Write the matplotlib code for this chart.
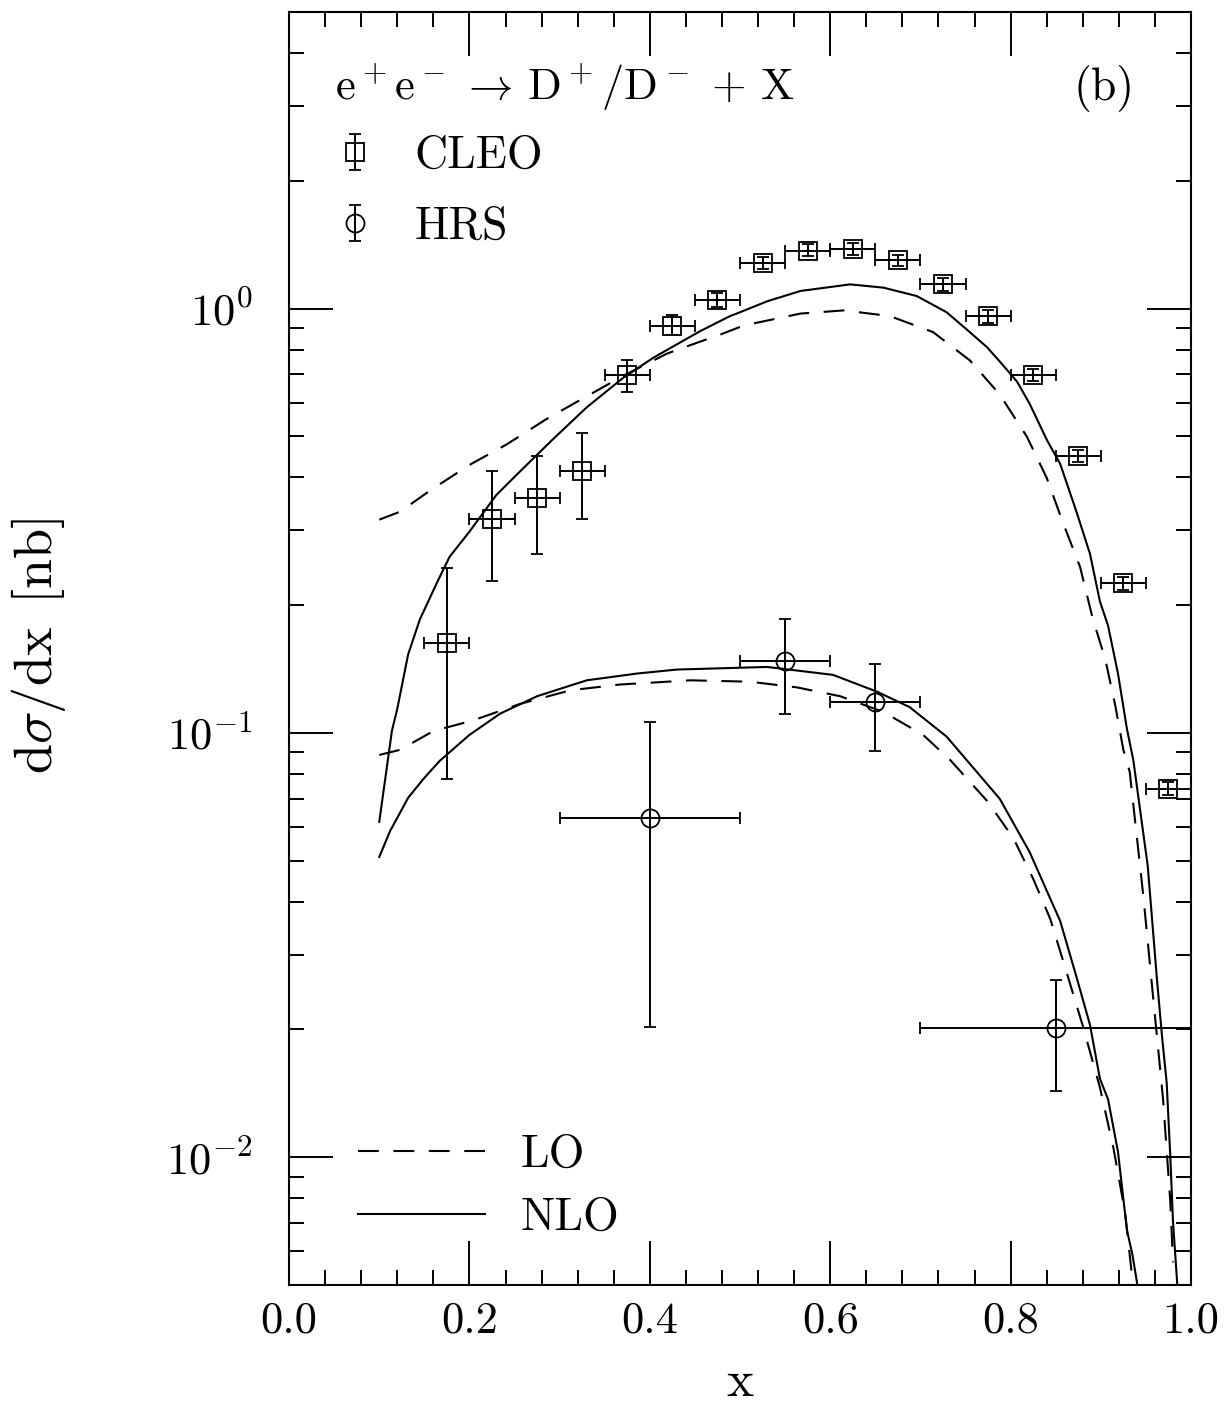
import numpy as np
import matplotlib
matplotlib.use("Agg")
import matplotlib.pyplot as plt
from matplotlib.ticker import MultipleLocator, LogLocator, NullFormatter
from matplotlib.legend_handler import HandlerErrorbar

plt.rcParams['font.family'] = 'serif'
plt.rcParams['font.serif'] = ['cmr10', 'DejaVu Serif']
plt.rcParams['mathtext.fontset'] = 'cm'
plt.rcParams['axes.formatter.use_mathtext'] = True
plt.rcParams['axes.unicode_minus'] = False

# CLEO data (x bins of width 0.05)
cleo_x = [0.175, 0.225, 0.275, 0.325, 0.375, 0.425, 0.475, 0.525, 0.575,
          0.625, 0.675, 0.725, 0.775, 0.825, 0.875, 0.925, 0.975]
cleo_y = [0.1625, 0.320, 0.358, 0.415, 0.699, 0.912, 1.05, 1.277, 1.37,
          1.38, 1.30, 1.14, 0.958, 0.699, 0.450, 0.225, 0.0738]
cleo_hi = [0.245, 0.415, 0.450, 0.510, 0.758, 0.968, 1.09, 1.32, 1.42,
           1.43, 1.34, 1.18, 0.99, 0.722, 0.465, 0.233, 0.0765]
cleo_lo = [0.0778, 0.228, 0.264, 0.320, 0.637, 0.864, 1.01, 1.24, 1.33,
           1.34, 1.26, 1.10, 0.925, 0.676, 0.435, 0.217, 0.0712]
cleo_xerr = 0.025

# HRS data
hrs_x = [0.40, 0.55, 0.65, 0.85]
hrs_y = [0.0630, 0.148, 0.118, 0.0202]
hrs_hi = [0.106, 0.185, 0.145, 0.0261]
hrs_lo = [0.0203, 0.111, 0.0907, 0.0143]
hrs_xerr = [0.10, 0.05, 0.05, 0.15]

# theory curves, upper set (CLEO energy)
nlo_up_x = [0.100, 0.106, 0.114, 0.120, 0.132, 0.145, 0.164, 0.178, 0.200, 0.230,
            0.256, 0.293, 0.330, 0.371, 0.404, 0.441, 0.456, 0.489, 0.500, 0.530,
            0.567, 0.622, 0.659, 0.696, 0.729, 0.752, 0.774, 0.788, 0.807, 0.821,
            0.840, 0.855, 0.873, 0.888, 0.899, 0.908, 0.919, 0.929, 0.936, 0.952,
            0.962, 0.968, 0.973, 0.977, 0.980, 0.985]
nlo_up_y = [0.0617, 0.0762, 0.101, 0.114, 0.153, 0.185, 0.226, 0.260, 0.298, 0.364,
            0.413, 0.493, 0.585, 0.688, 0.766, 0.849, 0.885, 0.960, 0.980, 1.04,
            1.10, 1.14, 1.12, 1.07, 0.98, 0.89, 0.81, 0.75, 0.673, 0.597,
            0.491, 0.430, 0.332, 0.264, 0.204, 0.179, 0.138, 0.102, 0.0863, 0.0486,
            0.0266, 0.0191, 0.0150, 0.01005, 0.00706, 0.00493]

lo_up_x = [0.100, 0.123, 0.156, 0.200, 0.241, 0.286, 0.330, 0.371, 0.419, 0.456,
           0.478, 0.504, 0.567, 0.615, 0.666, 0.714, 0.755, 0.788, 0.818, 0.840,
           0.858, 0.877, 0.891, 0.905, 0.916, 0.925, 0.932, 0.947, 0.958, 0.969,
           0.977, 0.980]
lo_up_y = [0.318, 0.332, 0.372, 0.428, 0.478, 0.550, 0.621, 0.695, 0.783, 0.836,
           0.868, 0.912, 0.973, 0.990, 0.960, 0.880, 0.754, 0.627, 0.499, 0.399,
           0.313, 0.246, 0.186, 0.149, 0.116, 0.0912, 0.081, 0.0415, 0.0238, 0.0137,
           0.00787, 0.00565]

# theory curves, lower set (HRS energy)
nlo_lo_x = [0.100, 0.112, 0.132, 0.149, 0.167, 0.200, 0.234, 0.275, 0.330, 0.386,
            0.430, 0.530, 0.603, 0.652, 0.688, 0.729, 0.788, 0.821, 0.855, 0.873,
            0.888, 0.899, 0.908, 0.919, 0.929, 0.935, 0.941]
nlo_lo_y = [0.0510, 0.0587, 0.0703, 0.0779, 0.0859, 0.0989, 0.111, 0.122, 0.133, 0.138,
            0.141, 0.143, 0.137, 0.125, 0.115, 0.098, 0.0699, 0.0524, 0.0360, 0.0266,
            0.0205, 0.0153, 0.0137, 0.0103, 0.00672, 0.0059, 0.00493]

lo_lo_x = [0.100, 0.123, 0.160, 0.204, 0.256, 0.312, 0.367, 0.445, 0.511, 0.563,
           0.611, 0.659, 0.703, 0.733, 0.774, 0.803, 0.825, 0.844, 0.862, 0.880,
           0.899, 0.914, 0.927, 0.935]
lo_lo_y = [0.0887, 0.0912, 0.101, 0.107, 0.117, 0.126, 0.130, 0.133, 0.132, 0.128,
           0.122, 0.112, 0.0989, 0.0863, 0.0691, 0.0565, 0.0453, 0.0364, 0.0273, 0.0204,
           0.0146, 0.0105, 0.00738, 0.00515]

fig = plt.figure(figsize=(12.29, 14.04), dpi=100)
ax = fig.add_axes([0.2352, 0.0848, 0.7339, 0.9067])

lw = 1.5
dash = (10, 7)

lo_line, = ax.plot(lo_up_x, lo_up_y, color='black', lw=lw, dashes=dash)
ax.plot(lo_lo_x, lo_lo_y, color='black', lw=lw, dashes=dash)
nlo_line, = ax.plot(nlo_up_x, nlo_up_y, color='black', lw=lw)
ax.plot(nlo_lo_x, nlo_lo_y, color='black', lw=lw)

cy = np.array(cleo_y)
cleo_err = [cy - np.array(cleo_lo), np.array(cleo_hi) - cy]
ax.errorbar(cleo_x, cleo_y, yerr=cleo_err, xerr=cleo_xerr, fmt='s', ms=13,
            mfc='none', mec='black', mew=1.3, ecolor='black', elinewidth=1.4,
            capsize=4.5, capthick=1.4)

hy = np.array(hrs_y)
hrs_err = [hy - np.array(hrs_lo), np.array(hrs_hi) - hy]
ax.errorbar(hrs_x, hrs_y, yerr=hrs_err, xerr=hrs_xerr, fmt='o', ms=13,
            mfc='none', mec='black', mew=1.3, ecolor='black', elinewidth=1.4,
            capsize=4.5, capthick=1.4)

ax.set_yscale('log')
ax.set_xlim(0.0, 1.0)
ax.set_ylim(0.005, 5.0)

ax.xaxis.set_major_locator(MultipleLocator(0.2))
ax.xaxis.set_minor_locator(MultipleLocator(0.04))
ax.set_xticklabels([f"{v:.1f}" for v in ax.get_xticks()])
ax.yaxis.set_major_locator(LogLocator(base=10, numticks=10))
ax.yaxis.set_minor_locator(LogLocator(base=10, subs=np.arange(2, 10), numticks=20))
ax.yaxis.set_minor_formatter(NullFormatter())

ax.tick_params(which='both', direction='in', top=True, right=True, width=1.4, colors='black')
ax.tick_params(which='major', length=32, labelsize=32)
ax.tick_params(which='minor', length=11)
ax.tick_params(axis='x', which='major', pad=12)
ax.tick_params(axis='y', which='major', pad=26)
for sp in ax.spines.values():
    sp.set_linewidth(1.5)

ax.set_xlabel('x', fontsize=37)
ax.xaxis.set_label_coords(0.5, -0.087)
ax.xaxis.label.set_verticalalignment('baseline')
ax.set_ylabel(r'$\mathrm{d}\sigma/\mathrm{dx}\ \,[\mathrm{nb}]$', fontsize=39)
ax.yaxis.set_label_coords(-0.245, 0.502)

ax.text(0.051, 0.931, r'$\mathrm{e^+e^-\,\rightarrow\,D^+/D^-\,+\,X}$',
        transform=ax.transAxes, fontsize=32, ha='left', va='baseline')
ax.text(0.938, 0.931, '(b)', transform=ax.transAxes, fontsize=33,
        ha='right', va='baseline')

# data legend (vertical error bar symbols only)
p_cleo = ax.errorbar([np.nan], [np.nan], yerr=[1.0], fmt='s', ms=13, mfc='none',
                     mec='black', mew=1.3, ecolor='black', elinewidth=1.4,
                     capsize=4.5, capthick=1.4)
p_hrs = ax.errorbar([np.nan], [np.nan], yerr=[1.0], fmt='o', ms=13, mfc='none',
                    mec='black', mew=1.3, ecolor='black', elinewidth=1.4,
                    capsize=4.5, capthick=1.4)
leg1 = ax.legend([p_cleo, p_hrs], ['CLEO', 'HRS'], loc='upper left',
                 bbox_to_anchor=(0.048, 0.903), frameon=False, fontsize=33,
                 handlelength=0.98, handletextpad=0.82, labelspacing=0.64,
                 borderpad=0, borderaxespad=0,
                 handler_map={type(p_cleo): HandlerErrorbar(xerr_size=0.4)})
ax.add_artist(leg1)

ax.legend([lo_line, nlo_line], ['LO', 'NLO'], loc='lower left',
          bbox_to_anchor=(0.0765, 0.036), frameon=False, fontsize=33,
          handlelength=2.78, handletextpad=0.76, labelspacing=0.47,
          borderpad=0, borderaxespad=0)

fig.savefig('out.png', dpi=100)
